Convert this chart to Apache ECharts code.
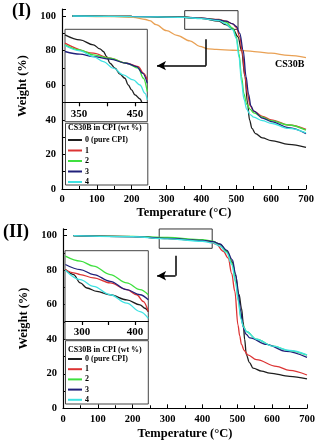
<!DOCTYPE html>
<html><head><meta charset="utf-8">
<script src="https://cdn.jsdelivr.net/npm/echarts@6/dist/echarts.min.js"></script>
<style>html,body{margin:0;padding:0;background:#fff}#c{width:319px;height:448px}</style>
</head><body><div id="c"></div><script>
// ---------- data ----------
const seriesNames = ['0 (pure CPI)', '1', '2', '3', '4'];
const legendTitle = 'CS30B in CPI (wt %)';

// Panel (I) main curves [temperature °C, weight %]
const p1_cpi0 = [[30,100],[200,99.8],[350,99.3],[400,98.6],[450,97],[470,95],[490,92.5],[505,88],[515,80],[525,65],[532,50],[538,40],[545,35],[555,32],[575,29.5],[600,28],[650,25.8],[700,24]];
const p1_cpi1 = [[30,100],[200,99.8],[350,99.4],[400,98.8],[450,98],[470,97],[490,95.5],[500,93.5],[510,88],[518,78],[525,65],[532,55],[540,48],[550,45],[575,42],[600,40],[650,37],[700,34.5]];
const p1_cpi2 = [[30,100],[200,99.8],[350,99.3],[400,98.6],[450,97.8],[470,96.5],[490,93],[500,88],[508,78],[515,65],[522,55],[530,49],[540,46],[550,44],[575,41.5],[600,39.5],[650,37],[700,34]];
const p1_cpi3 = [[30,100],[200,99.8],[350,99.3],[400,98.7],[450,97.8],[470,97],[490,95.5],[500,94],[510,90],[520,80],[528,65],[535,55],[542,48],[550,45],[575,41],[600,39],[650,35.5],[700,32]];
const p1_cpi4 = [[30,100],[200,99.7],[350,99.2],[400,98.5],[450,97.3],[470,95.5],[490,92],[500,87],[508,76],[515,62],[522,52],[530,46],[540,43],[550,41.5],[575,39.5],[600,38],[650,35],[700,32.5]];
const p1_cs30b = [[30,100],[150,99.6],[204,99.2],[240,98],[252,97.3],[270,95],[300,91.5],[330,88.8],[367,85.6],[395,82.5],[420,81],[443,80.7],[490,80.2],[520,80],[560,79.3],[600,78.5],[650,77.2],[700,76]];
const p1_clayLabel = 'CS30B';

// Panel (I) inset curves
const i1_cpi0 = [[325,99.52],[351.8,98.96],[375.6,98.4],[387.5,97.95],[393.5,97.66],[399.4,97.1],[405.4,96.35],[414.3,95.8],[423.2,95.13],[432,94.68],[438,93.93],[444,93.38],[450,92.82],[459,92.37],[462,92.0]];
const i1_cpi1 = [[325,98.59],[375.6,97.47],[405.4,96.91],[435,96.35],[456,95.98],[465,95.24],[472,94.49]];
const i1_cpi2 = [[325,98.4],[351.8,97.84],[375.6,97.28],[405.4,96.91],[435,96.35],[456,95.8],[465,94.68],[472,93.19]];
const i1_cpi3 = [[325,97.66],[351.8,97.36],[375.6,97.1],[405.4,96.8],[435,96.35],[453,95.98],[463.7,95.24],[472,94.12]];
const i1_cpi4 = [[325,98.33],[351.8,97.73],[375.6,97.1],[393.5,96.54],[411.4,95.8],[429,95.05],[447,94.49],[459,93.93],[468,93.0],[472,92.26]];

// Panel (II) main curves
const p2_cpi0 = [[30,100],[200,99.5],[270,98.9],[300,98.5],[350,97.8],[400,97.2],[430,96.5],[450,95],[470,91],[485,85],[495,77],[505,66],[512,58],[517,50],[521,40],[526,31],[535,26.5],[545,23.3],[570,21.5],[593,20.4],[650,18.5],[700,17]];
const p2_cpi1 = [[30,100],[200,99.5],[300,98.3],[400,97.3],[420,96.5],[440,95],[460,91],[474,87],[484,78],[493,67.7],[502,48.2],[507,42],[512,37],[520,33.5],[530,31],[555,28.2],[612,24.3],[650,22],[700,19.3]];
const p2_cpi2 = [[30,100],[200,99.6],[300,99],[400,97.7],[430,96.8],[450,95],[470,91],[485,84],[495,74],[503,63],[510,53],[518,47.5],[526,44.5],[555,40],[603,36],[650,33.3],[700,30.8]];
const p2_cpi3 = [[30,100],[200,99.5],[300,98.4],[400,97.3],[430,96.6],[450,95.2],[470,91.5],[486,86],[495,78],[503,66],[510,56],[517,47],[525,43],[536,40.8],[584,37],[640,33],[700,29.5]];
const p2_cpi4 = [[30,100],[200,99.4],[300,98.2],[400,96.8],[430,95.8],[450,94],[470,90],[485,83],[495,73],[503,62],[510,52],[518,47],[526,44.5],[555,40],[603,36],[650,33.5],[700,31]];

// Panel (II) inset curves
const i2_cpi0 = [[268.7,97.88],[284.2,97.31],[296.8,96.35],[309.4,95.77],[328.1,95.38],[353.1,95.0],[384.4,94.42],[409.4,93.85],[418.8,93.46],[425,93.08]];
const i2_cpi1 = [[268.7,97.88],[284.2,97.5],[296.8,97.31],[321.8,96.92],[353.1,96.35],[384.4,95.58],[403.2,95.0],[415.6,94.23],[425,93.08]];
const i2_cpi2 = [[268.7,99.42],[296.8,98.85],[321.8,98.27],[353.1,97.31],[384.4,96.35],[409.4,95.58],[425,95.0]];
const i2_cpi3 = [[268.7,98.46],[296.8,97.88],[321.8,97.31],[353.1,96.54],[384.4,95.58],[409.4,95.0],[425,94.42]];
const i2_cpi4 = [[268.7,97.81],[296.8,96.73],[321.8,95.96],[353.1,95.0],[384.4,94.04],[409.4,93.08],[425,92.31]];

// Axis ticks / labels
const mainXTicks = [0, 700, 100];
const mainYTicks = [0, 104, 20];
const inset1Range = [325, 472];
const inset1Ticks = [350, 400, 450];
const inset1Labels = [350, 450];
const inset2Range = [268, 425];
const inset2Ticks = [300, 350, 400];
const inset2Labels = [300, 400];
const insetYRange = [92, 100];

// Zoom boxes and arrows (data coordinates)
const box1 = [[352, 92.3], [505, 103.1]];
const arrow1 = [[413, 86.5], [413, 71.3], [272.5, 71.3]];
const box2 = [[276, 92.7], [428, 103.9]];
const arrow2 = [[323, 88.4], [323, 76.8], [270, 76.8]];

// ---------- chart ----------
const colors = ['#1e1e1e', '#dc3434', '#3fe03f', '#20207a', '#3fe2e2'];
const orange = '#e9a155';
const F = '"Liberation Serif", "Times New Roman", serif';
const chart = echarts.init(document.getElementById('c'), null, {renderer: 'canvas'});

function mainX(gi, gap) {
  return {gridIndex: gi, type: 'value', min: mainXTicks[0], max: mainXTicks[1], interval: mainXTicks[2],
    name: 'Temperature (°C)', nameLocation: 'middle', nameGap: gap,
    nameTextStyle: {fontFamily: F, fontWeight: 'bold', fontSize: 12.5, color: '#000'},
    axisLine: {lineStyle: {color: '#000', width: 1.2}},
    axisTick: {inside: true, length: 4, lineStyle: {color: '#000'}},
    minorTick: {show: true, splitNumber: 2, length: 3, lineStyle: {color: '#000'}},
    splitLine: {show: false}, minorSplitLine: {show: false},
    axisLabel: {fontFamily: F, fontWeight: 'bold', fontSize: 10.5, color: '#000', margin: 5}};
}
function mainY(gi, pad) {
  return {gridIndex: gi, type: 'value', min: mainYTicks[0], max: mainYTicks[1], interval: mainYTicks[2],
    name: 'Weight (%)', nameLocation: 'middle', nameGap: 27, nameRotate: 90,
    nameTextStyle: {fontFamily: F, fontWeight: 'bold', fontSize: 12.5, color: '#000', padding: pad},
    axisLine: {show: true, lineStyle: {color: '#000', width: 1.2}},
    axisTick: {inside: true, length: 4, lineStyle: {color: '#000'}},
    minorTick: {show: true, splitNumber: 2, length: 3, lineStyle: {color: '#000'}},
    splitLine: {show: false}, minorSplitLine: {show: false},
    axisLabel: {fontFamily: F, fontWeight: 'bold', fontSize: 10.5, color: '#000', margin: 6, showMaxLabel: false}};
}
function insetX(gi, range, ticks, labels) {
  return {gridIndex: gi, type: 'value', min: range[0], max: range[1], z: 11,
    axisLine: {lineStyle: {color: '#000', width: 1}},
    axisTick: {customValues: ticks, length: 4, lineStyle: {color: '#000', width: 1.2}},
    axisLabel: {customValues: labels, fontFamily: F, fontWeight: 'bold', fontSize: 11, color: '#000', margin: 6},
    splitLine: {show: false}};
}
function insetY(gi) {
  return {gridIndex: gi, type: 'value', min: insetYRange[0], max: insetYRange[1], show: false, splitLine: {show: false}};
}
function line(name, data, color, idx, z) {
  return {type: 'line', name: name, data: data, xAxisIndex: idx, yAxisIndex: idx,
    showSymbol: false, symbol: 'none', smooth: 0.35, smoothMonotone: 'x',
    lineStyle: {color: color, width: 1.3}, itemStyle: {color: color}, z: z, silent: true};
}
function boxArea(b) {
  return {silent: true, itemStyle: {color: 'rgba(0,0,0,0)', borderColor: '#333', borderWidth: 1},
    data: [[{coord: b[0]}, {coord: b[1]}]]};
}
function arrowLine(a) {
  return {silent: true, symbol: ['none', 'none'], animation: false,
    lineStyle: {color: '#000', width: 1.5, type: 'solid'}, label: {show: false},
    data: [[{coord: a[0]}, {coord: a[1]}], [{coord: a[1]}, {coord: a[2], symbol: 'arrow', symbolSize: [7, 9]}]]};
}

const main1 = [p1_cpi0, p1_cpi1, p1_cpi2, p1_cpi3, p1_cpi4];
const main2 = [p2_cpi0, p2_cpi1, p2_cpi2, p2_cpi3, p2_cpi4];
const ins1 = [i1_cpi0, i1_cpi1, i1_cpi2, i1_cpi3, i1_cpi4];
const ins2 = [i2_cpi0, i2_cpi1, i2_cpi2, i2_cpi3, i2_cpi4];

const series = [];
const cs = line(p1_clayLabel, p1_cs30b, orange, 0, 2);
cs.markArea = boxArea(box1);
cs.markLine = arrowLine(arrow1);
series.push(cs);
seriesNames.forEach((n, i) => series.push(line(n, main1[i], colors[i], 0, 3)));
seriesNames.forEach((n, i) => {
  const s = line(n, main2[i], colors[i], 1, 3);
  if (i === 0) { s.markArea = boxArea(box2); s.markLine = arrowLine(arrow2); }
  series.push(s);
});
seriesNames.forEach((n, i) => series.push(line(n, ins1[i], colors[i], 2, 12)));
seriesNames.forEach((n, i) => series.push(line(n, ins2[i], colors[i], 3, 12)));

const legendBase = {data: seriesNames, orient: 'vertical', left: 68, itemWidth: 14, itemHeight: 2, icon: 'rect',
  padding: 0, selectedMode: false, z: 12,
  textStyle: {fontFamily: F, fontWeight: 'bold', fontSize: 8, lineHeight: 8.5, color: '#000', padding: [0, 0, 0, -2]}};

const ts = (size) => ({fontFamily: F, fontWeight: 'bold', fontSize: size, color: '#000'});

chart.setOption({
  animation: false,
  backgroundColor: '#fff',
  grid: [
    {left: 62, right: 13, top: 9.1, bottom: 259},
    {left: 63, right: 12, top: 228.8, bottom: 39.7},
    {left: 65, top: 30.5, width: 82.3, height: 71.8},
    {left: 65, top: 251, width: 83.3, height: 70}
  ],
  xAxis: [mainX(0, 16), mainX(1, 19), insetX(2, inset1Range, inset1Ticks, inset1Labels), insetX(3, inset2Range, inset2Ticks, inset2Labels)],
  yAxis: [mainY(0, [0, 0, 0, 26]), mainY(1, [0, 0, 0, 0]), insetY(2), insetY(3)],
  title: [
    {text: '(I)', left: 12, top: 2, padding: 0, textStyle: ts(18)},
    {text: '(II)', left: 3, top: 223, padding: 0, textStyle: ts(18)},
    {text: p1_clayLabel, left: 275, top: 59.5, padding: 0, textStyle: ts(10)},
    {text: legendTitle, left: 68, top: 123.8, padding: 0, z: 12, textStyle: ts(8)},
    {text: legendTitle, left: 68, top: 345.6, padding: 0, z: 12, textStyle: ts(8)}
  ],
  legend: [
    Object.assign({}, legendBase, {top: 135.75, itemGap: 2}),
    Object.assign({}, legendBase, {top: 354.75, itemGap: 1.7})
  ],
  graphic: {z: 10, elements: [
    {type: 'rect', z: 10, shape: {x: 65, y: 29.3, width: 82.3, height: 92.4}, style: {fill: '#fff', stroke: '#444', lineWidth: 1}},
    {type: 'rect', z: 10, shape: {x: 65.5, y: 123.3, width: 82.3, height: 61.7}, style: {fill: '#fff', stroke: '#444', lineWidth: 1}},
    {type: 'rect', z: 10, shape: {x: 65, y: 250.7, width: 83.3, height: 89}, style: {fill: '#fff', stroke: '#444', lineWidth: 1}},
    {type: 'rect', z: 10, shape: {x: 65.5, y: 340.7, width: 82.8, height: 63.3}, style: {fill: '#fff', stroke: '#444', lineWidth: 1}}
  ]},
  series: series
});
</script></body></html>
